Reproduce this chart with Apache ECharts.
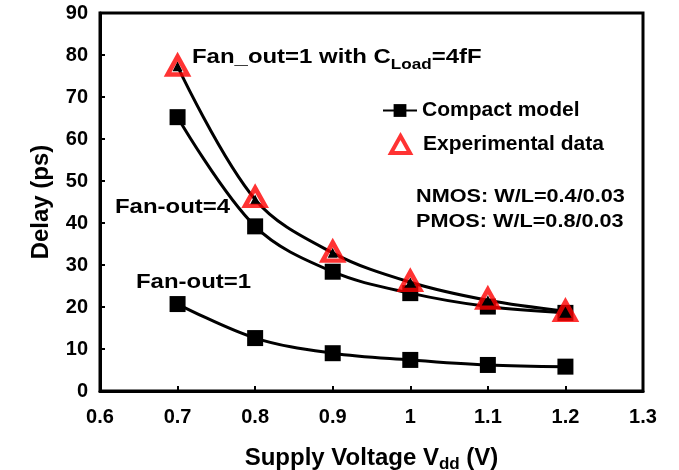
<!DOCTYPE html>
<html><head><meta charset="utf-8">
<script src="https://cdn.jsdelivr.net/npm/echarts@6/dist/echarts.min.js"></script>
<style>html,body{margin:0;padding:0;background:#fff}#c{width:679px;height:470px}</style>
</head><body><div id="c"></div>
<script>
const voltages = [0.7, 0.8, 0.9, 1.0, 1.1, 1.2];
const fanout4Model = [65.2, 39.2, 28.4, 23.3, 20.1, 18.6];
const fanout1Model = [20.7, 12.6, 9.0, 7.4, 6.2, 5.8];
const loadModel = [77.3, 45.6, 32.9, 25.9, 21.6, 19.0];
const loadExperimental = [77.5, 46.2, 33.2, 26.2, 22.0, 19.1];
const xTicks = [0.6, 0.7, 0.8, 0.9, 1.0, 1.1, 1.2, 1.3];
const yTicks = [0, 10, 20, 30, 40, 50, 60, 70, 80, 90];

const pairs = a => voltages.map((v, i) => [v, a[i]]);
const FONT = '"Liberation Sans", Arial, sans-serif';
const SX = 1.14;
const chart = echarts.init(document.getElementById('c'), null, {renderer: 'canvas'});
const lineSeries = (data, symbol, size) => ({
  name: 'Compact model', type: 'line', smooth: 0.35, data: pairs(data),
  symbol: symbol, symbolSize: size, showSymbol: true,
  lineStyle: {color: '#000', width: 3}, itemStyle: {color: '#000'}, z: 2
});
const legendText = {fontFamily: FONT, fontWeight: 'bold', fontSize: 21, color: '#000'};
const txt = (x, y, text, size) => ({type: 'text', x: x, y: y, scaleX: SX, style: {
  text: text, fontSize: size, fontWeight: 'bold', fontFamily: FONT, fill: '#000', verticalAlign: 'top'}});
chart.setOption({
  animation: false,
  textStyle: {fontFamily: FONT},
  grid: {left: 100, right: 36, top: 13, bottom: 79, show: true, borderColor: '#000', borderWidth: 3,
         outerBoundsMode: 'none', containLabel: false},
  legend: [
    {orient: 'vertical', left: 377, top: 95, itemWidth: 34, itemHeight: 16, itemGap: 0,
     data: ['Compact model'], textStyle: legendText},
    {orient: 'vertical', left: 384, top: 129, itemWidth: 19, itemHeight: 17, itemGap: 0,
     itemStyle: {borderWidth: 4, borderColor: '#ff0000'},
     data: ['Experimental data'], textStyle: Object.assign({padding: [0, 0, 0, 8]}, legendText)}
  ],
  xAxis: {
    type: 'value', min: xTicks[0], max: xTicks[xTicks.length - 1], interval: 0.1,
    axisLine: {lineStyle: {color: '#000', width: 3}},
    axisTick: {inside: true, length: 5, lineStyle: {color: '#000', width: 2}},
    splitLine: {show: false},
    axisLabel: {margin: 16, fontSize: 20, fontWeight: 'bold', color: '#000', fontFamily: FONT,
      formatter: v => String(parseFloat(v.toFixed(1)))},
    name: '{a|Supply Voltage V}{b|dd}{a| (V)}', nameLocation: 'middle', nameGap: 53,
    nameTextStyle: {rich: {
      a: {fontSize: 24, fontWeight: 'bold', color: '#000', fontFamily: FONT},
      b: {fontSize: 17, fontWeight: 'bold', color: '#000', fontFamily: FONT, padding: [12, 0, 0, 0]}
    }}
  },
  yAxis: {
    type: 'value', min: yTicks[0], max: yTicks[yTicks.length - 1], interval: 10,
    axisLine: {lineStyle: {color: '#000', width: 3}},
    axisTick: {inside: true, length: 5, lineStyle: {color: '#000', width: 2}},
    splitLine: {show: false},
    axisLabel: {margin: 12, fontSize: 20, fontWeight: 'bold', color: '#000', fontFamily: FONT},
    name: 'Delay (ps)', nameLocation: 'middle', nameGap: 47,
    nameTextStyle: {fontSize: 24, fontWeight: 'bold', color: '#000', fontFamily: FONT}
  },
  series: [
    lineSeries(fanout4Model, 'rect', 16),
    lineSeries(fanout1Model, 'rect', 16),
    lineSeries(loadModel, 'triangle', 10),
    {
      name: 'Experimental data', type: 'scatter', data: pairs(loadExperimental),
      symbol: 'triangle', symbolSize: [20, 18],
      itemStyle: {color: 'rgba(0,0,0,0)', borderColor: '#ff0000', borderWidth: 4.5}, z: 5
    }
  ],
  graphic: [
    {type: 'text', x: 192, y: 43, scaleX: SX, style: {
      text: '{a|Fan_out=1 with C}{b|Load}{a|=4fF}', fill: '#000', verticalAlign: 'top',
      rich: {
        a: {fontSize: 21, fontWeight: 'bold', fontFamily: FONT, fill: '#000'},
        b: {fontSize: 15, fontWeight: 'bold', fontFamily: FONT, fill: '#000', padding: [14, 0, 0, 0]}
      }}},
    txt(115, 197, 'Fan-out=4', 21),
    txt(136, 272, 'Fan-out=1', 21),
    txt(416, 187, 'NMOS: W/L=0.4/0.03', 19),
    txt(416, 212, 'PMOS: W/L=0.8/0.03', 19)
  ]
});
</script></body></html>
